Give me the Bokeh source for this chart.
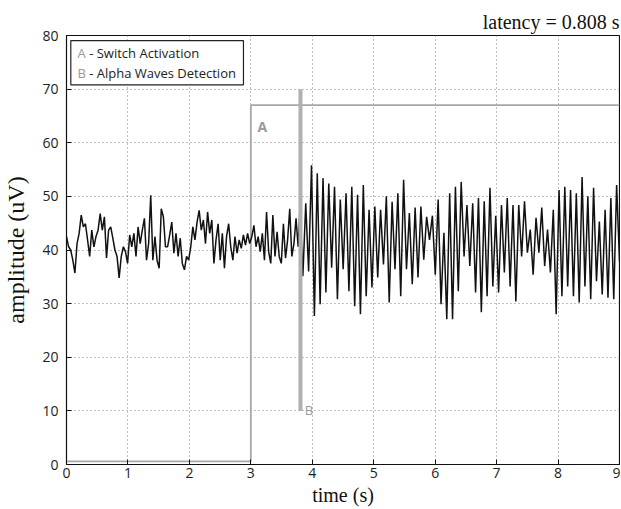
import numpy as np
from bokeh.plotting import figure
from bokeh.models import Range1d, FixedTicker
from bokeh.core.properties import value
from bokeh.embed import file_html
from bokeh.resources import INLINE

# ---- data ----
x_ticks = [0, 1, 2, 3, 4, 5, 6, 7, 8, 9]
y_ticks = [0, 10, 20, 30, 40, 50, 60, 70, 80]

# resting EEG before alpha onset (uV), 0 .. 3.77 s
rest_values = [
    42.5, 40.6, 40.0, 38.1, 35.7, 41.2, 43.1, 46.5, 44.3, 44.9,
    41.9, 38.8, 43.7, 40.6, 42.5, 43.7, 46.8, 43.7, 46.2, 38.5,
    43.7, 44.3, 42.2, 40.0, 38.8, 34.8, 38.8, 40.6, 39.7, 37.5,
    42.8, 40.6, 43.1, 38.8, 44.3, 41.2, 43.7, 45.9, 38.1, 41.2,
    50.2, 38.1, 42.5, 38.1, 36.6, 47.7, 46.2, 40.6, 40.6, 42.8,
    45.2, 39.4, 43.1, 38.8, 42.2, 37.5,
    36.3, 38.8, 38.1, 40.6, 44.3, 41.9, 45.2, 47.4, 43.7, 45.6,
    41.2, 47.1, 43.1, 45.6, 37.5, 41.9, 44.9, 38.1, 43.1, 36.6,
    42.5, 44.9, 40.6, 38.1, 42.5, 39.4, 41.9, 40.3, 42.8, 40.9,
    43.1, 41.2, 42.5, 44.6, 40.6, 42.5, 39.7, 43.1, 38.1, 47.1,
    39.7, 37.5, 46.5, 38.8, 43.4, 38.8, 37.5, 44.9, 38.5, 41.9,
    47.7, 38.8, 41.2, 45.9, 40.6,
]
rest_start, rest_end = 0.0, 3.77

# alpha rhythm after onset (uV): alternating peak / trough, 3.80 .. 9.0 s
alpha_values = [
    47.9, 35.1, 48.7, 36.0, 55.8, 27.7, 54.3, 29.9, 53.4, 32.1,
    52.4, 36.7, 51.8, 30.8, 49.4, 36.4, 50.6, 32.3, 51.8, 29.5,
    50.3, 28.0, 52.1, 31.4, 47.5, 33.0, 48.1, 34.9, 47.5, 37.3,
    50.0, 30.2, 49.0, 36.4, 50.6, 31.4, 53.1, 36.4, 46.9, 33.6,
    47.9, 34.9, 48.1, 38.2, 46.2, 41.9, 46.4, 35.4, 49.4, 29.9,
    43.2, 27.1, 50.6, 27.1, 51.8, 32.3,
    52.7, 38.8, 48.4, 37.0, 48.7, 32.1, 49.7, 28.4, 49.1, 31.4,
    51.6, 33.2, 46.4, 32.1, 48.4, 35.8, 49.7, 33.2, 48.4, 30.4,
    48.4, 38.8, 49.1, 39.5, 43.8, 35.4, 46.0, 39.5, 47.9, 37.0,
    43.8, 35.8, 47.5, 28.0, 51.2, 31.4, 51.8, 33.2, 51.2, 31.4,
    50.6, 30.2, 53.6, 33.2, 50.0, 30.8, 51.6, 34.2, 45.3, 31.7,
    47.5, 31.1, 49.7, 30.8, 52.1, 37.9,
]
alpha_start, alpha_end = 3.80, 9.0

# event markers
switch_time = 3.0          # A - switch activation
switch_low, switch_high = 0.6, 67.0
detect_time = 3.808        # B - alpha waves detection
detect_low, detect_high = 10.0, 70.0
legend_keys = ["A", "B"]
legend_texts = ["- Switch Activation", "- Alpha Waves Detection"]
title_text = "latency = 0.808 s"

# ---- build ----
t_rest = np.linspace(rest_start, rest_end, len(rest_values))
t_alpha = np.linspace(alpha_start, alpha_end, len(alpha_values))
t = np.concatenate([t_rest, t_alpha])
v = np.concatenate([rest_values, alpha_values])

p = figure(width=620, height=508, x_range=Range1d(0, 9), y_range=Range1d(0, 80),
           output_backend="svg", toolbar_location=None, title=title_text,
           min_border_left=66, min_border_right=1, min_border_top=35, min_border_bottom=42)
p.background_fill_color = "white"
p.border_fill_color = "white"
p.outline_line_color = "#111111"
p.outline_line_width = 1.2

p.title.align = "right"
p.title.text_font = "Liberation Serif"
p.title.text_font_style = "normal"
p.title.text_font_size = "20px"
p.title.text_color = "#111111"
p.title.standoff = 6
p.title.offset = 0

for ax in (p.xaxis[0], p.yaxis[0]):
    ax.axis_line_color = "#111111"
    ax.major_tick_in = 5
    ax.major_tick_out = 0
    ax.minor_tick_in = 0
    ax.minor_tick_out = 0
    ax.major_tick_line_color = "#111111"
    ax.major_label_text_font = "Open Sans"
    ax.major_label_text_font_size = "14px"
    ax.major_label_text_color = "#222222"
    ax.axis_label_text_font = "Liberation Serif"
    ax.axis_label_text_font_style = "normal"
    ax.axis_label_text_color = "#111111"

p.xaxis.ticker = FixedTicker(ticks=x_ticks)
p.yaxis.ticker = FixedTicker(ticks=y_ticks)
p.xaxis.axis_label = "time (s)"
p.yaxis.axis_label = "amplitude (uV)"
p.xaxis.axis_label_text_font_size = "20px"
p.yaxis.axis_label_text_font_size = "24px"
p.xaxis.major_label_standoff = 3
p.xaxis.axis_label_standoff = 3
p.yaxis.major_label_standoff = 8
p.yaxis.axis_label_standoff = 10

for g in (p.xgrid[0], p.ygrid[0]):
    g.grid_line_color = "#808080"
    g.grid_line_dash = "1 3"
    g.grid_line_width = 1

# A step line
p.line([0, switch_time, switch_time, 9], [switch_low, switch_low, switch_high, switch_high],
       line_color="#a8a8a8", line_width=1.8)

# signal
p.line(t, v, line_color="#111111", line_width=1.5)

# B detection line
p.line([detect_time, detect_time], [detect_low, detect_high], line_color="#b0b0b0", line_width=4)

p.text(x=[switch_time + 0.11], y=[switch_high - 3.9], text=["A"], text_color="#9a9a9a",
       text_font=value("Open Sans"), text_font_style="bold", text_font_size="14px",
       text_baseline="alphabetic")
p.text(x=[detect_time + 0.07], y=[detect_low + 0.2], text=["B"], text_color="#9a9a9a",
       text_font=value("Open Sans"), text_font_size="13px", text_baseline="alphabetic")

# legend box
p.quad(left=[0.07], right=[2.88], bottom=[70.8], top=[79.05], fill_color="white",
       line_color="#222222", line_width=1.2)
p.text(x=[0.18, 0.18], y=[76.7, 73.1], text=legend_keys, text_color="#999999",
       text_font=value("Open Sans"), text_font_size="13px", text_baseline="middle")
p.text(x=[0.18, 0.18], y=[76.7, 73.1], text=legend_texts, text_color="#222222", x_offset=11.6,
       text_font=value("Open Sans"), text_font_size="13px", text_baseline="middle")

open("out.html", "w").write(file_html(p, INLINE))
